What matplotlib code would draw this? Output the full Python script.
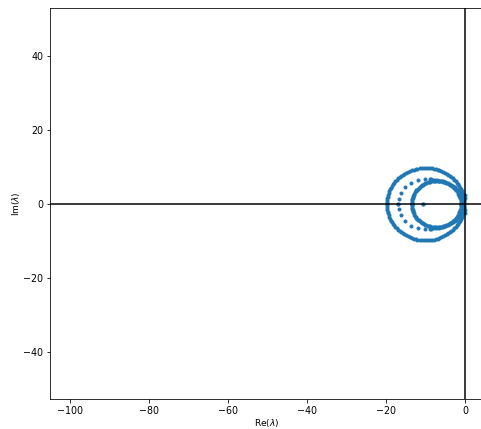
import numpy as np
import matplotlib
matplotlib.use("Agg")
import matplotlib.pyplot as plt

# eigenvalues with Im >= 0 (the spectrum is conjugate-symmetric)
outer_re = [-0.20, -0.21, -0.25, -0.32, -0.42, -0.53, -0.68, -0.85, -1.05, -1.27,
            -1.51, -1.78, -2.07, -2.38, -2.72, -3.07, -3.44, -3.83, -4.24, -4.66,
            -5.10, -5.55, -6.01, -6.49, -6.97, -7.46, -7.96, -8.47, -8.98, -9.49,
            -10.00, -10.51, -11.02, -11.53, -12.04, -12.54, -13.03, -13.51, -13.99,
            -14.45, -14.90, -15.34, -15.76, -16.17, -16.56, -16.93, -17.28, -17.62,
            -17.93, -18.22, -18.49, -18.73, -18.95, -19.15, -19.32, -19.47, -19.58,
            -19.68, -19.75, -19.79, -19.80]
outer_im = [0.00, 0.51, 1.02, 1.53, 2.04, 2.54, 3.03, 3.51, 3.99, 4.45,
            4.90, 5.34, 5.76, 6.17, 6.56, 6.93, 7.28, 7.62, 7.93, 8.22,
            8.49, 8.73, 8.95, 9.15, 9.32, 9.47, 9.59, 9.68, 9.75, 9.79,
            9.80, 9.79, 9.75, 9.68, 9.59, 9.47, 9.32, 9.15, 8.95,
            8.73, 8.49, 8.22, 7.93, 7.62, 7.28, 6.93, 6.56, 6.17,
            5.76, 5.34, 4.90, 4.45, 3.99, 3.51, 3.03, 2.54, 2.04,
            1.53, 1.02, 0.51, 0.00]

inner_re = [-1.00, -1.01, -1.03, -1.08, -1.14, -1.21, -1.31, -1.42, -1.54, -1.68,
            -1.84, -2.01, -2.19, -2.39, -2.61, -2.83, -3.07, -3.32, -3.58, -3.85,
            -4.13, -4.41, -4.71, -5.01, -5.32, -5.63, -5.95, -6.27, -6.60, -6.92,
            -7.25, -7.58, -7.90, -8.23, -8.55, -8.87, -9.18, -9.49, -9.79,
            -10.09, -10.38, -10.65, -10.93, -11.18, -11.43, -11.67, -11.89, -12.11,
            -12.31, -12.49, -12.66, -12.82, -12.96, -13.09, -13.19, -13.29, -13.36,
            -13.42, -13.47, -13.49, -13.50]
inner_im = [0.00, 0.33, 0.65, 0.98, 1.30, 1.62, 1.93, 2.24, 2.54, 2.84,
            3.13, 3.40, 3.67, 3.93, 4.18, 4.42, 4.64, 4.86, 5.06, 5.24,
            5.41, 5.57, 5.71, 5.84, 5.94, 6.04, 6.11, 6.17, 6.22, 6.24,
            6.25, 6.24, 6.22, 6.17, 6.11, 6.04, 5.94, 5.84, 5.71,
            5.57, 5.41, 5.24, 5.06, 4.86, 4.64, 4.42, 4.18, 3.93,
            3.67, 3.40, 3.13, 2.84, 2.54, 2.24, 1.93, 1.62, 1.30,
            0.98, 0.65, 0.33, 0.00]

arc_re = [-17.05, -16.80, -16.30, -15.20, -13.75, -11.80, -10.10, -9.00, -8.50,
          -8.00, -7.50, -7.00, -6.50, -6.00, -5.50, -5.00, -4.50, -4.00, -3.50,
          -3.00, -2.60, -2.20, -1.85, -1.50, -1.25, -1.00, -0.80, -0.60, -0.45]
arc_im = [0.00, 1.30, 2.90, 4.50, 5.80, 6.50, 6.70, 6.70, 6.65,
          6.60, 6.52, 6.45, 6.35, 6.25, 6.10, 5.95, 5.75, 5.50, 5.20,
          4.90, 4.55, 4.20, 3.75, 3.30, 2.85, 2.40, 1.90, 1.40, 0.50]

axis_re = [-10.70, -0.30, -0.10, 0.00]
axis_im = [0.00, 0.80, 1.60, 2.40]

fig = plt.figure(figsize=(481 / 72, 429 / 72), dpi=72)
ax = fig.add_axes([50 / 481, 30 / 429, 434 / 481, 391 / 429])

re = np.concatenate([outer_re, inner_re, arc_re, axis_re])
im = np.concatenate([outer_im, inner_im, arc_im, axis_im])
ax.plot(np.concatenate([re, re]), np.concatenate([im, -im]), ".", color="C0")

ax.axhline(0, color="k")
ax.axvline(0, color="k")
ax.set_xlim(-105.1, 4.8)
ax.set_ylim(-52.7, 53.0)
ax.set_xticks([-100, -80, -60, -40, -20, 0])
ax.set_yticks([-40, -20, 0, 20, 40])
ax.set_xlabel(r"Re($\lambda$)", fontsize=9, labelpad=1)
ax.set_ylabel(r"Im($\lambda$)", fontsize=9, labelpad=1)
ax.tick_params(labelsize=9.5)

fig.savefig("out.png", dpi=72)
